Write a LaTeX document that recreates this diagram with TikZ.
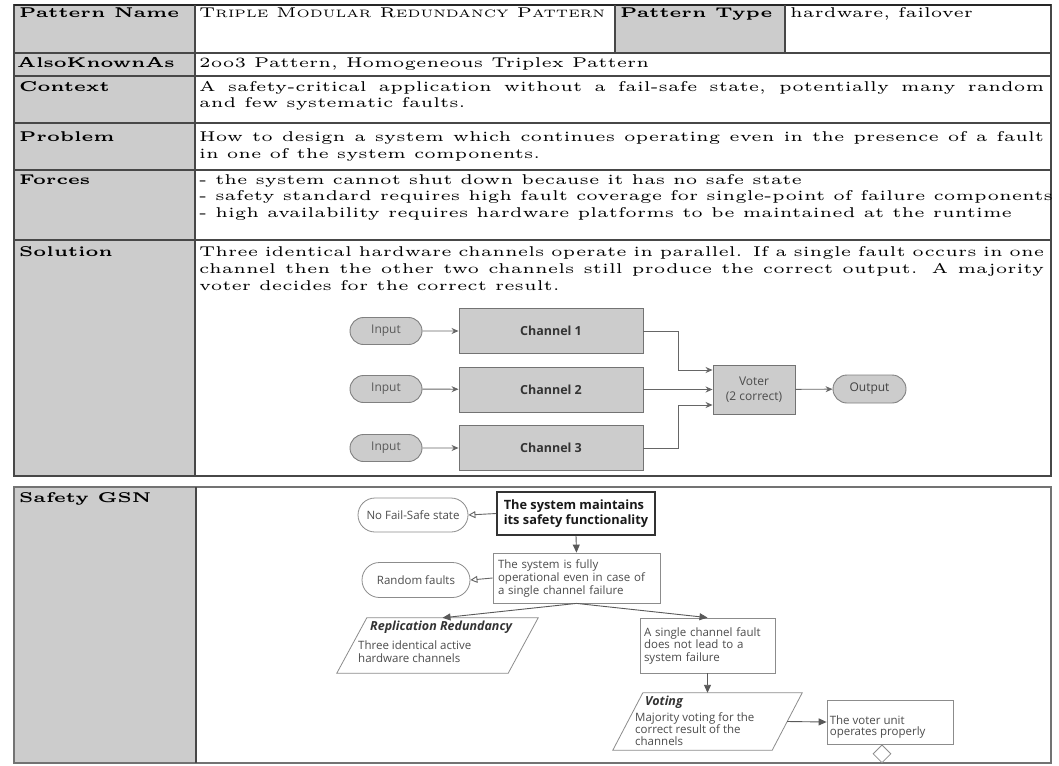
\documentclass[tikz,border=0pt]{standalone}
\usepackage{fontspec}
\usepackage{graphicx}
\usetikzlibrary{arrows.meta,calc,shapes.geometric,shapes.misc}
\newfontfamily\osans{Open Sans}

% serif table text: small optical size, scaled up
\newcommand\SX{3.4}
\newcommand\SY{2.83}
\newcommand\tx[1]{\scalebox{\SX}[\SY]{\fontsize{5}{6}\selectfont #1}}
\newcommand\jl[1]{\scalebox{\SX}[\SY]{\fontsize{5}{6}\selectfont\makebox[\dimexpr 845pt*10/34\relax][s]{#1}}}
\newcommand\fsc[2]{#1{\fontsize{3.8}{5}\selectfont #2}}

\begin{document}
\begin{tikzpicture}[x=1pt,y=-1pt,
  rule/.style={draw=black!72, line width=1.4pt},
  lbl/.style={anchor=base west, inner sep=0pt},
  pill/.style={rounded rectangle, fill=black!20, draw=black!50, line width=0.9pt,
    minimum width=72, minimum height=27, inner sep=0pt,
    font=\osans\fontsize{12}{14}\selectfont, text=black!65},
  chbox/.style={rectangle, fill=black!20, draw=black!55, line width=0.9pt,
    minimum width=184, minimum height=45, inner sep=0pt,
    font=\osans\bfseries\fontsize{12.5}{14}\selectfont, text=black!80},
  arr/.style={draw=black!60, line width=0.9pt, -{Stealth[length=7pt,width=6pt]}},
  gfont/.style={font=\osans\fontsize{11.5}{13}\selectfont, text=black!70},
  gbox/.style={rectangle, draw=black!45, line width=0.8pt, inner sep=3pt, gfont},
  gctx/.style={rounded rectangle, draw=black!45, line width=0.8pt, inner sep=0pt, gfont},
  gline/.style={draw=black!45, line width=0.8pt},
  garr/.style={draw=black!65, line width=0.9pt, -{Triangle[length=8pt,width=7pt]}},
  carr/.style={draw=black!60, line width=0.9pt, -{Triangle[open,length=7pt,width=7pt]}}
]
\useasboundingbox (0,0) rectangle (1059,765);
\fill[white] (0,0) rectangle (1059,765);

% ---------- pattern table ----------
\fill[black!20] (14,5) rectangle (195,476);
\fill[black!20] (615,5) rectangle (785,53);
\draw[rule] (14,5) rectangle (1051,476);
\draw[rule, line width=2.2pt, draw=black!85] (14,5) -- (1051,5);
\foreach \yy in {53,76,123,170,240} \draw[rule] (14,\yy) -- (1051,\yy);
\draw[rule] (195,5) -- (195,476);
\draw[rule] (615,5) -- (615,53);
\draw[rule] (785,5) -- (785,53);

\node[lbl] (lname) at (19,18) {\tx{\bfseries Pattern Name}};
\node[lbl] (vname) at (199,18) {\tx{\fsc{T}{RIPLE} \fsc{M}{ODULAR} \fsc{R}{EDUNDANCY} \fsc{P}{ATTERN}}};
\node[lbl] (ltype) at (620,18) {\tx{\bfseries Pattern Type}};
\node[lbl] (vtype) at (790,18) {\tx{hardware, failover}};

\node[lbl] (laka) at (17,68) {\tx{\bfseries AlsoKnownAs}};
\node[lbl] (vaka) at (199,68) {\tx{2oo3 Pattern, Homogeneous Triplex Pattern}};

\node[lbl] (lctx) at (19,91.5) {\tx{\bfseries Context}};
\node[lbl] (vctx1) at (199,91.5) {\jl{A safety-critical application without a fail-safe state, potentially many random}};
\node[lbl] (vctx2) at (199,108) {\tx{and few systematic faults.}};

\node[lbl] (lprob) at (19,141.5) {\tx{\bfseries Problem}};
\node[lbl] (vprob1) at (199,141.5) {\jl{How to design a system which continues operating even in the presence of a fault}};
\node[lbl] (vprob2) at (199,158) {\tx{in one of the system components.}};

\node[lbl] (lforce) at (19,184) {\tx{\bfseries Forces}};
\node[lbl] (vforce1) at (199,184) {\tx{- the system cannot shut down because it has no safe state}};
\node[lbl] (vforce2) at (199,200.7) {\tx{- safety standard requires high fault coverage for single-point of failure components}};
\node[lbl] (vforce3) at (199,217.3) {\tx{- high availability requires hardware platforms to be maintained at the runtime}};

\node[lbl] (lsol) at (19,256.5) {\tx{\bfseries Solution}};
\node[lbl] (vsol1) at (199,256.5) {\jl{Three identical hardware channels operate in parallel. If a single fault occurs in one}};
\node[lbl] (vsol2) at (199,273) {\jl{channel then the other two channels still produce the correct output. A majority}};
\node[lbl] (vsol3) at (199,290) {\tx{voter decides for the correct result.}};

% ---------- triple channel block diagram ----------
\node[pill] (in1) at (386,331) {Input};
\node[pill] (in2) at (386,389) {Input};
\node[pill] (in3) at (386,448) {Input};
\node[chbox] (ch1) at (551,331) {Channel 1};
\node[chbox] (ch2) at (551,389.5) {Channel 2};
\node[chbox] (ch3) at (551,448) {Channel 3};
\node[rectangle, fill=black!20, draw=black!55, line width=0.9pt, minimum width=82, minimum height=49,
  inner sep=0pt, align=center, font=\osans\fontsize{12}{15}\selectfont, text=black!70] (voter) at (754,389.5) {Voter\\(2 correct)};
\node[pill, minimum width=73, minimum height=28, text=black!75] (out) at (869.5,389) {Output};

\draw[arr] (in1) -- (ch1);
\draw[arr] (in2) -- (ch2);
\draw[arr] (in3) -- (ch3);
\draw[arr] (ch1.east) -- ++(35,0) |- ([yshift=19.5pt]voter.west);
\draw[arr] (ch2.east) -- (voter.west);
\draw[arr] (ch3.east) -- ++(35,0) |- ([yshift=-15.5pt]voter.west);
\draw[arr] (voter) -- (out);

% ---------- safety GSN table ----------
\fill[black!20] (14,487) rectangle (196,763);
\draw[rule, draw=black!55] (14,487) rectangle (1051,763);
\draw[rule] (196,487) -- (196,763);
\node[lbl] (lgsn) at (19,502) {\tx{\bfseries Safety GSN}};

% goals and contexts
\node[rectangle, draw=black!80, line width=1.6pt, minimum width=158, minimum height=43, inner sep=0pt,
  align=left, font=\osans\bfseries\fontsize{12.8}{15}\selectfont, text=black!90]
  (g0) at (576,513.5) {The system maintains\\its safety functionality};
\node[gctx, minimum width=110, minimum height=34] (c0) at (413,515) {No Fail-Safe state};
\node[gbox, minimum width=167, minimum height=50, text width=157, align=left] (g1) at (576.5,578)
  {The system is fully\\operational even in case of\\a single channel failure};
\node[gctx, minimum width=108, minimum height=35] (c1) at (416,580) {Random faults};
\node[gbox, minimum width=135, minimum height=55, text width=127, align=left, font=\osans\fontsize{11.5}{12.5}\selectfont]
  (g2) at (707.5,645.5) {A single channel fault\\does not lead to a\\system failure};
\node[gbox, minimum width=126, minimum height=44] (g3) at (890,722) {};
\node[anchor=west, inner sep=0pt, align=left, gfont, font=\osans\fontsize{11.5}{11.5}\selectfont]
  (g3t) at ([xshift=3pt,yshift=-5pt]g3.west) {The voter unit\\operates properly};
\node[diamond, draw=black!45, fill=white, line width=0.8pt, minimum width=18, minimum height=18, inner sep=0pt,
  anchor=north] (u3) at ([xshift=-8pt]g3.south) {};

% strategies (parallelograms)
\node[minimum width=201, minimum height=55, inner sep=0pt] (s1) at (437.5,645.5) {};
\draw[gline] ([xshift=30pt]s1.north west) -- (s1.north east) -- ([xshift=-30pt]s1.south east) -- (s1.south west) -- cycle;
\node[anchor=west, inner sep=0pt, font=\osans\bfseries\itshape\fontsize{12.5}{14}\selectfont, text=black!80]
  (s1t) at (370,627) {Replication Redundancy};
\node[anchor=north west, inner sep=0pt, align=left, gfont, font=\osans\fontsize{11.5}{12.5}\selectfont]
  (s1b) at (358,641) {Three identical active\\hardware channels};

\node[minimum width=189, minimum height=57, inner sep=0pt] (s2) at (707.5,721.5) {};
\draw[gline] ([xshift=30pt]s2.north west) -- (s2.north east) -- ([xshift=-30pt]s2.south east) -- (s2.south west) -- cycle;
\node[anchor=west, inner sep=0pt, font=\osans\bfseries\itshape\fontsize{12.5}{14}\selectfont, text=black!80]
  (s2t) at (645,702) {Voting};
\node[anchor=north west, inner sep=0pt, align=left, gfont, font=\osans\fontsize{11.5}{12.3}\selectfont]
  (s2b) at (635,712) {Majority voting for the\\correct result of the\\channels};
\coordinate (s2r) at ($(s2.north east)!0.5!([xshift=-30pt]s2.south east)$);

% GSN connectors
\draw[carr] (g0.west) -- (c0.east);
\draw[carr] (g1.west) -- (c1.east);
\draw[garr] (g0.south) -- (g1.north);
\draw[garr] (g1.south) -- ([xshift=5pt]s1.north);
\draw[garr] (g1.south) -- (g2.north);
\draw[garr] (g2.south) -- (s2.north);
\draw[garr] (s2r) -- (g3.west);
\end{tikzpicture}
\end{document}
